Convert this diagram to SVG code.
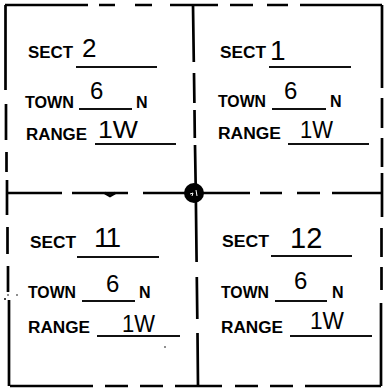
<svg xmlns="http://www.w3.org/2000/svg" width="389" height="389" viewBox="0 0 389 389">
<style>
.frame{fill:none;stroke:#000;stroke-width:2.7;stroke-linecap:butt}
.ul{fill:none;stroke:#111;stroke-width:1.8}
.lbl{font-family:"Liberation Sans",Arial,sans-serif;font-weight:bold;font-size:16px;fill:#000}
.num{font-family:"Liberation Sans",Arial,sans-serif;font-weight:normal;fill:#000}
</style>
<rect width="389" height="389" fill="#fff"/>
<g id="connectors">
<path class="frame" d="M5,5H88M99,5H115M135,5H152M170,5H218M230,5H253M267,5H288M300,5H382"/>
<path class="frame" d="M8,193H62M72,193H128M143,193H250M260,193H282M297,193H320M332,193H383"/>
<path class="frame" d="M105,193L110,196L115,193" stroke-width="2"/>
<path class="frame" d="M10,386H93M105,386H128M140,386H163M175,386H222M235,386H258M270,386H293M305,386H381"/>
<path class="frame" d="M5.5,5V90M6,104V140M6.5,152V172M7,180V215M7.5,227V254M8,266V292M9,300V386"/>
<path class="frame" d="M193,5L193.8,62M194,73L194.4,103M194.5,110L194.8,138M195,145L195.8,193L196.6,262M196.8,277L197.3,319M197.5,333L198,386"/>
<path class="frame" d="M382,5V88M382,98V128M382,138V167M382,173V217M381.5,228V257M381.5,267V290M381,303V386"/>
</g>
<g id="center-dot">
<circle cx="194" cy="193" r="10" fill="#000"/>
<path d="M190,194L193,193L192,196M196,190L197,196" stroke="#fff" stroke-width="1" fill="none"/>
</g>
<g id="specks" fill="#000">
<circle cx="5" cy="299" r="1"/><circle cx="8" cy="295" r="0.8"/><circle cx="17" cy="295" r="0.8"/><circle cx="165" cy="347" r="0.8"/>
</g>
<g id="sect-2">
<text class="lbl" x="28" y="58" textLength="45" lengthAdjust="spacingAndGlyphs">SECT</text>
<text class="num" x="82" y="57" font-size="26">2</text>
<line class="ul" x1="76" y1="67" x2="157" y2="67"/>
<text class="lbl" x="25" y="108" textLength="49" lengthAdjust="spacingAndGlyphs">TOWN</text>
<text class="num" x="90" y="99" font-size="24">6</text>
<line class="ul" x1="79" y1="109" x2="132" y2="109"/>
<text class="lbl" x="136" y="108">N</text>
<text class="lbl" x="26" y="140" textLength="61" lengthAdjust="spacingAndGlyphs">RANGE</text>
<text class="num" x="98" y="138" font-size="23" textLength="40" lengthAdjust="spacingAndGlyphs">1W</text>
<line class="ul" x1="95" y1="144" x2="176" y2="144"/>
</g>
<g id="sect-1">
<text class="lbl" x="220" y="58" textLength="46" lengthAdjust="spacingAndGlyphs">SECT</text>
<text class="num" x="270" y="60" font-size="28">1</text>
<line class="ul" x1="269" y1="67" x2="351" y2="67"/>
<text class="lbl" x="218" y="107" textLength="48" lengthAdjust="spacingAndGlyphs">TOWN</text>
<text class="num" x="284" y="99" font-size="24">6</text>
<line class="ul" x1="272" y1="109" x2="326" y2="109"/>
<text class="lbl" x="330" y="107">N</text>
<text class="lbl" x="218" y="139" textLength="63" lengthAdjust="spacingAndGlyphs">RANGE</text>
<text class="num" x="300" y="138" font-size="23" textLength="33" lengthAdjust="spacingAndGlyphs">1W</text>
<line class="ul" x1="288" y1="144" x2="369" y2="144"/>
</g>
<g id="sect-11">
<text class="lbl" x="30" y="248" textLength="46" lengthAdjust="spacingAndGlyphs">SECT</text>
<text class="num" x="94" y="247" font-size="28" letter-spacing="-2">11</text>
<line class="ul" x1="77" y1="257" x2="159" y2="257"/>
<text class="lbl" x="28" y="298" textLength="48" lengthAdjust="spacingAndGlyphs">TOWN</text>
<text class="num" x="106" y="292" font-size="24">6</text>
<line class="ul" x1="82" y1="301" x2="135" y2="301"/>
<text class="lbl" x="139" y="298">N</text>
<text class="lbl" x="28" y="333" textLength="62" lengthAdjust="spacingAndGlyphs">RANGE</text>
<text class="num" x="122" y="332" font-size="23" textLength="33" lengthAdjust="spacingAndGlyphs">1W</text>
<line class="ul" x1="97" y1="336" x2="180" y2="336"/>
</g>
<g id="sect-12">
<text class="lbl" x="222" y="247" textLength="47" lengthAdjust="spacingAndGlyphs">SECT</text>
<text class="num" x="290" y="248" font-size="29">12</text>
<line class="ul" x1="271" y1="256" x2="352" y2="256"/>
<text class="lbl" x="221" y="298" textLength="48" lengthAdjust="spacingAndGlyphs">TOWN</text>
<text class="num" x="294" y="289" font-size="24">6</text>
<line class="ul" x1="275" y1="301" x2="327" y2="301"/>
<text class="lbl" x="332" y="298">N</text>
<text class="lbl" x="221" y="333" textLength="62" lengthAdjust="spacingAndGlyphs">RANGE</text>
<text class="num" x="310" y="329" font-size="23" textLength="34" lengthAdjust="spacingAndGlyphs">1W</text>
<line class="ul" x1="290" y1="336" x2="372" y2="336"/>
</g>
</svg>
